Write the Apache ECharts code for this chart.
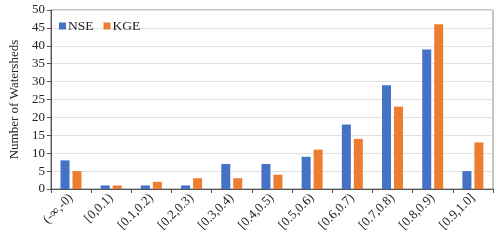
<!DOCTYPE html>
<html><head><meta charset="utf-8">
<script src="https://cdn.jsdelivr.net/npm/echarts@6/dist/echarts.min.js"></script>
<style>html,body{margin:0;padding:0;background:#fff}#c{width:500px;height:243px}</style>
</head><body><div id="c"></div>
<script>
const categories = ['(-∞,-0)','[0,0.1)','[0.1,0.2)','[0.2,0.3)','[0.3,0.4)','[0.4,0.5)','[0.5,0.6)','[0.6,0.7)','[0.7,0.8)','[0.8,0.9)','[0.9,1.0]'];
const nse = [8,1,1,1,7,7,9,18,29,39,5];
const kge = [5,1,2,3,3,4,11,14,23,46,13];
const yTicks = {min:0, max:50, interval:5};
const font = '"Liberation Serif","Times New Roman",serif';
const chart = echarts.init(document.getElementById('c'));
chart.setOption({
  animation:false,
  textStyle:{fontFamily:font},
  legend:{left:54, top:14, itemWidth:7, itemHeight:7, itemGap:10,
    textStyle:{fontFamily:font, fontSize:13.5, color:'#222', padding:[0,0,0,-3]},
    data:['NSE','KGE'], icon:'rect'},
  grid:{left:44, right:7, top:10, bottom:54, show:true, borderColor:'#888', borderWidth:1},
  xAxis:{type:'category', data:categories,
    axisLine:{lineStyle:{color:'#555'}},
    axisTick:{show:true, length:4, lineStyle:{color:'#555'}},
    axisLabel:{rotate:45, fontFamily:font, fontSize:13, color:'#222', margin:7, interval:0}},
  yAxis:{type:'value', min:yTicks.min, max:yTicks.max, interval:yTicks.interval,
    name:'Number of Watersheds', nameLocation:'middle', nameGap:28,
    nameTextStyle:{fontFamily:font, fontSize:13, color:'#222'},
    axisLine:{show:true, lineStyle:{color:'#555'}},
    axisTick:{show:true, length:4, lineStyle:{color:'#555'}},
    axisLabel:{fontFamily:font, fontSize:13, color:'#222', margin:6},
    splitLine:{lineStyle:{color:'#e0e0e0'}}},
  series:[
    {name:'NSE', type:'bar', data:nse, barWidth:9, barGap:'33%', itemStyle:{color:'#4472C4'}},
    {name:'KGE', type:'bar', data:kge, barWidth:9, itemStyle:{color:'#ED7D31'}}
  ]
});
</script></body></html>
